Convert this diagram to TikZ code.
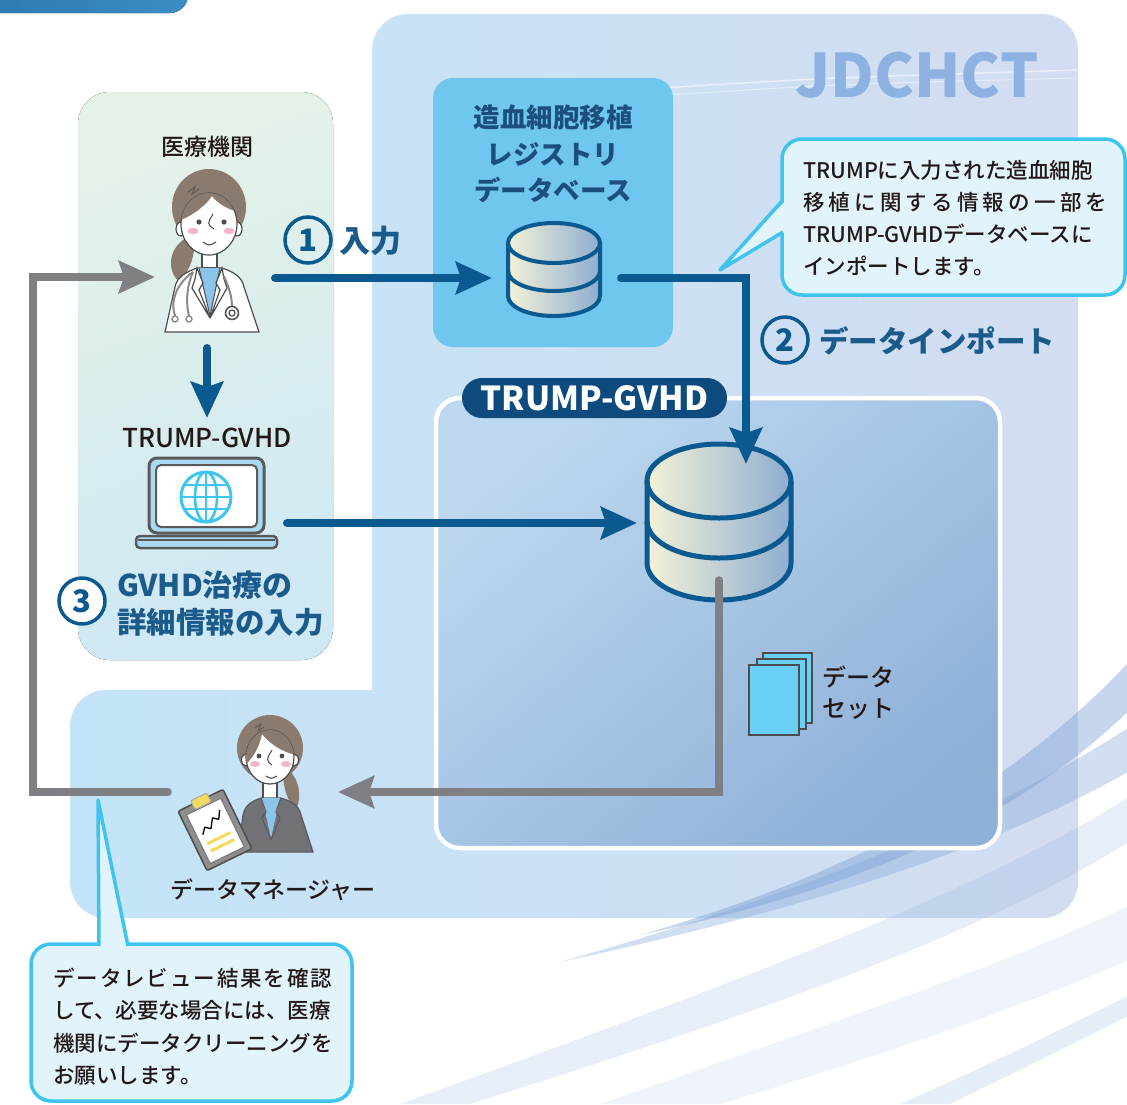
\documentclass[tikz,border=0pt]{standalone}
\usepackage{fontspec}
\setmainfont{Noto Sans CJK JP}
\newfontfamily\jpmed{Noto Sans CJK JP Medium}
\usetikzlibrary{arrows.meta}

\definecolor{deepblue}{HTML}{0A5A90}
\definecolor{navy}{HTML}{0D4B7E}
\definecolor{txtblue}{HTML}{1A5B8C}
\definecolor{regtext}{HTML}{1C4F7E}
\definecolor{arrgray}{HTML}{7F7F84}
\definecolor{cyanline}{HTML}{3EC4EE}
\definecolor{calloutbg}{HTML}{E1F3FB}
\definecolor{regbox}{HTML}{6FC6EE}
\definecolor{ink}{HTML}{231815}
\definecolor{hair}{HTML}{8B7B6F}
\definecolor{hairline}{HTML}{665A52}
\definecolor{outl}{HTML}{4D4D4D}
\definecolor{cheek}{HTML}{F5B5C6}
\definecolor{shirt}{HTML}{8CC5EA}
\definecolor{suit}{HTML}{727276}
\definecolor{suitline}{HTML}{5A5A5E}
\definecolor{steth}{HTML}{8A8A8A}
\definecolor{sheet}{HTML}{6BCFF6}
\definecolor{jdtext}{HTML}{8DB1E0}
\definecolor{dbL}{HTML}{F3F2D8}
\definecolor{dbR}{HTML}{8EADD0}
\definecolor{swoosh}{HTML}{7FA3D6}
\definecolor{clipyel}{HTML}{F2DA5C}
\definecolor{board}{HTML}{8E8E8E}
\definecolor{paperline}{HTML}{777777}
\definecolor{clipline}{HTML}{A8A8A8}
\definecolor{lapfill}{HTML}{A9DAF2}
\definecolor{lapline}{HTML}{5A5A5A}
\definecolor{stripL}{HTML}{2E78B2}
\definecolor{stripR}{HTML}{3C8CC4}
\definecolor{areaL}{HTML}{C3E4F8}
\definecolor{areaR}{HTML}{D3DDF1}
\definecolor{instT}{HTML}{E5F2E7}
\definecolor{instB}{HTML}{CEE8F4}
\definecolor{gvhdT}{HTML}{BCD7EF}
\definecolor{gvhdB}{HTML}{8FB1D8}

% database drum: cx, top centre, band centre, bottom centre, rx, ry, line width
\newcommand{\drum}[7]{%
  \shade[left color=dbL, right color=dbR]
    (#1-#5,#2) -- (#1-#5,#4) arc[start angle=180,end angle=0,x radius=#5,y radius=#6]
    -- (#1+#5,#2) arc[start angle=0,end angle=-180,x radius=#5,y radius=#6] -- cycle;
  \draw[deepblue, line width=#7] (#1,#2) ellipse[x radius=#5,y radius=#6];
  \draw[deepblue, line width=#7, line join=round]
    (#1-#5,#2) -- (#1-#5,#4) arc[start angle=180,end angle=0,x radius=#5,y radius=#6] -- (#1+#5,#2);
  \draw[deepblue, line width=#7] (#1-#5,#3) arc[start angle=180,end angle=0,x radius=#5,y radius=#6];
}

\begin{document}
\begin{tikzpicture}[x=1pt,y=-1pt,
  flow/.style={line width=8pt, deepblue, line cap=round,
    -{Stealth[length=36pt,width=32pt,inset=5pt]}},
  back/.style={line width=7.5pt, arrgray, line cap=round,
    -{Stealth[length=36pt,width=32pt,inset=5pt]}},
  numcirc/.style={circle, draw=deepblue, line width=3.5pt, minimum size=46pt,
    inner sep=0pt, text=deepblue, font=\bfseries\fontsize{31}{31}\selectfont},
  bluelab/.style={text=txtblue, inner sep=0pt, font=\bfseries\fontsize{31}{34}\selectfont},
  lab/.style={text=ink, inner sep=0pt, font=\jpmed\fontsize{23}{27}\selectfont},
  note/.style={text=ink, inner sep=0pt, anchor=west, font=\jpmed\fontsize{21.5}{25}\selectfont},
  bubble/.style={fill=calloutbg, draw=cyanline, line width=3.5pt, rounded corners=20pt},
  fig/.style={draw=outl, line width=1.2pt},
]
\useasboundingbox (0,0) rectangle (1127,1104);

% ---------- heading strip in the corner ----------
\fill[left color=stripL, right color=stripR, rounded corners=18pt] (-30,-60) rectangle (188,13);

% ---------- JDCHCT area ----------
\path[left color=areaL, right color=areaR, rounded corners=36pt]
  (372,14) rectangle (1078,918) (70,690) rectangle (1078,918);
\draw[white, opacity=.55, line width=1.5pt] (630,90) .. controls (820,78) .. (1078,70);
\draw[white, opacity=.45, line width=1pt] (650,96) .. controls (840,84) .. (1078,78);
\node[text=jdtext, inner sep=0pt, font=\bfseries\fontsize{60}{60}\selectfont] (jd) at (917,75) {JDCHCT};

% sweeping streaks
\fill[swoosh, opacity=.45] (640,935) .. controls (900,860) and (1040,760) .. (1140,650)
  -- (1140,700) .. controls (1040,800) and (900,880) .. (640,935) -- cycle;
\fill[swoosh, opacity=.35] (560,962) .. controls (850,880) and (1020,800) .. (1140,720)
  -- (1140,765) .. controls (1020,835) and (850,900) .. (560,962) -- cycle;
\fill[swoosh, opacity=.18] (400,1104) .. controls (800,960) and (1000,880) .. (1140,790)
  -- (1140,835) .. controls (1000,925) and (800,1000) .. (470,1104) -- cycle;
\fill[swoosh, opacity=.12] (600,1104) .. controls (900,1000) and (1040,950) .. (1140,900)
  -- (1140,955) .. controls (1040,1000) and (900,1050) .. (720,1104) -- cycle;
\fill[swoosh, opacity=.2] (900,1104) .. controls (1000,1060) and (1080,1020) .. (1140,990)
  -- (1140,1010) .. controls (1080,1040) and (1000,1080) .. (950,1104) -- cycle;

% ---------- medical institution panel ----------
\fill[top color=instT, bottom color=instB, shading angle=20, rounded corners=32pt]
  (78,92) rectangle (333,660);

% ---------- registry box ----------
\node[fill=regbox, rounded corners=20pt, minimum width=240pt, minimum height=269pt] (reg) at (553,212.5) {};
\node[text=regtext, inner sep=0pt, align=center, font=\bfseries\fontsize{26.5}{36.5}\selectfont]
  (regtxt) at (553,154) {造血細胞移植\\レジストリ\\データベース};
\drum{554}{243}{271}{296}{46}{20}{4pt}
\coordinate (regin) at (492,278);
\coordinate (regout) at (621,278);

% ---------- TRUMP-GVHD database panel ----------
\path[draw=white, line width=4.5pt, rounded corners=24pt,
      top color=gvhdT, bottom color=gvhdB, shading angle=40]
  (436,398) rectangle (1000,848);
\node[fill=navy, rounded corners=20pt, minimum width=265pt, minimum height=40pt,
      text=white, inner sep=0pt, font=\bfseries\fontsize{33}{33}\selectfont] (pill) at (594.5,398) {TRUMP-GVHD};
\drum{719}{481}{521}{563}{72}{37}{5pt}
\coordinate (bigtop) at (746,464);
\coordinate (bigin) at (637,523);
\coordinate (bigbot) at (719,580);

% dataset icon
\filldraw[fill=sheet, draw=outl, line width=2.5pt] (763,653) rectangle (812,723);
\filldraw[fill=sheet, draw=outl, line width=2.5pt] (757,659) rectangle (806,729);
\filldraw[fill=sheet, draw=outl, line width=2.5pt] (749,665) rectangle (799,735);
\node[lab, anchor=west, font=\jpmed\fontsize{24}{28}\selectfont] (ds1) at (822,677) {データ};
\node[lab, anchor=west, font=\jpmed\fontsize{24}{28}\selectfont] (ds2) at (822,709) {セット};

% ---------- doctor ----------
\node[lab] (inst) at (207,147) {医療機関};
\fill[hair] (186,238) .. controls (166,250) and (168,274) .. (180,282)
  .. controls (190,270) and (196,254) .. (194,238) -- cycle;
\fill[hair] (209,207) ellipse[x radius=37,y radius=38];
\filldraw[fill=white, fig] (181,229) ellipse[x radius=5,y radius=7];
\filldraw[fill=white, fig] (237,229) ellipse[x radius=5,y radius=7];
\filldraw[fill=white, fig] (202,250) rectangle (217,268);
\filldraw[fill=white, fig] (209,224) ellipse[x radius=28,y radius=31];
\begin{scope}
  \clip (209,224) ellipse[x radius=28,y radius=31];
  \fill[hair] (176,226) -- (181,220) .. controls (195,214) and (206,205) .. (212,196)
    .. controls (220,206) and (230,210) .. (242,213) -- (242,180) -- (176,180) -- cycle;
\end{scope}
\draw[hairline, line width=1pt] (188,192) -- (195,187) -- (192,194) -- (199,189);
\fill[outl] (199,222) circle[radius=2.6];
\fill[outl] (224,222) circle[radius=2.6];
\fill[cheek] (193,231) ellipse[x radius=5.5,y radius=3.2];
\fill[cheek] (229,231) ellipse[x radius=5.5,y radius=3.2];
\draw[outl, line width=1pt] (213,214) .. controls (207,224) .. (214,229);
\draw[outl, line width=1.1pt] (203,242) .. controls (209,246) .. (216,242);
\filldraw[fill=white, fig] (165,332) -- (175,287) .. controls (177,277) and (186,272) .. (197,268)
  -- (222,268) .. controls (234,272) and (242,277) .. (244,287) -- (259,332) -- cycle;
\fill[shirt] (199,268) -- (220,268) -- (210,316) -- cycle;
\draw[outl, line width=1pt] (199,268) -- (210,316) -- (220,268);
\filldraw[fill=white, fig] (197,268) -- (203,283) -- (199,290) -- (210,318) -- (192,288) -- (195,279) -- cycle;
\filldraw[fill=white, fig] (222,268) -- (216,283) -- (220,290) -- (210,318) -- (227,288) -- (224,279) -- cycle;
\draw[steth, line width=2pt] (193,272) .. controls (176,284) and (170,302) .. (175,316);
\draw[steth, line width=2pt] (193,272) .. controls (186,288) and (186,304) .. (189,316);
\filldraw[fill=white, draw=steth, line width=1.4pt] (175,319) circle[radius=3];
\filldraw[fill=white, draw=steth, line width=1.4pt] (189,319) circle[radius=3];
\draw[steth, line width=2pt] (224,276) .. controls (230,290) and (232,298) .. (232,307);
\filldraw[fill=white, draw=outl, line width=1.5pt] (232,313) circle[radius=6.5];
\draw[outl, line width=1.2pt] (232,313) circle[radius=3];
\coordinate (docout) at (275,278);
\coordinate (docin) at (155,277);
\coordinate (docdown) at (207,348);

% ---------- laptop ----------
\node[lab, font=\jpmed\fontsize{26}{30}\selectfont] (laplab) at (207,438) {TRUMP-GVHD};
\filldraw[fill=lapfill, draw=lapline, line width=3pt, rounded corners=8pt] (149,458) rectangle (264,533);
\filldraw[fill=white, draw=lapline, line width=2pt, rounded corners=5pt] (156,465) rectangle (257,527);
\filldraw[fill=lapfill, draw=lapline, line width=2.5pt, rounded corners=4pt] (136,536) rectangle (277,548);
\draw[lapline, line width=1.5pt] (138,540) -- (275,540);
\begin{scope}
  \clip (206,497) circle[radius=25];
  \draw[cyanline, line width=2.6pt] (206,497) ellipse[x radius=11,y radius=25];
  \draw[cyanline, line width=2.6pt] (206,470) -- (206,524) (178,497) -- (234,497)
    (180,485) -- (232,485) (180,509) -- (232,509);
\end{scope}
\draw[cyanline, line width=3pt] (206,497) circle[radius=25];
\coordinate (lapin) at (207,418);
\coordinate (lapout) at (287,523);

% step labels
\node[numcirc] (n1) at (308,240) {1};
\node[bluelab, anchor=west] (l1) at (339,241) {入力};
\node[numcirc] (n2) at (785,340) {2};
\node[bluelab, anchor=west, font=\bfseries\fontsize{29.5}{34}\selectfont] (l2) at (819,341) {データインポート};
\node[numcirc, fill=white] (n3) at (82,601) {3};
\node[bluelab, anchor=west, font=\bfseries\fontsize{30}{34}\selectfont] (l3a) at (117,585) {GVHD治療の};
\node[bluelab, anchor=west, font=\bfseries\fontsize{29.5}{34}\selectfont] (l3b) at (117,622) {詳細情報の入力};

% ---------- data manager ----------
\fill[hair] (287,768) .. controls (300,780) and (302,796) .. (296,810)
  .. controls (287,800) and (283,788) .. (283,772) -- cycle;
\fill[hair] (270,748) ellipse[x radius=33,y radius=33];
\filldraw[fill=white, fig] (246,760) ellipse[x radius=4.5,y radius=6];
\filldraw[fill=white, fig] (294,760) ellipse[x radius=4.5,y radius=6];
\filldraw[fill=white, fig] (263,780) rectangle (277,800);
\filldraw[fill=white, fig] (270,757) ellipse[x radius=24,y radius=27];
\begin{scope}
  \clip (270,757) ellipse[x radius=24,y radius=27];
  \fill[hair] (244,770) -- (246,764) .. controls (255,756) and (260,744) .. (262,734)
    .. controls (270,744) and (282,752) .. (296,755) -- (296,720) -- (244,720) -- cycle;
\end{scope}
\draw[hairline, line width=1pt] (255,728) -- (261,724) -- (258,731) -- (264,727);
\fill[outl] (259,756) circle[radius=2.4];
\fill[outl] (282,756) circle[radius=2.4];
\fill[cheek] (255,764) ellipse[x radius=5,y radius=3];
\fill[cheek] (286,764) ellipse[x radius=5,y radius=3];
\draw[outl, line width=1pt] (272,750) .. controls (266,760) .. (272,765);
\draw[outl, line width=1.1pt] (266,776) .. controls (271,779) .. (277,776);
\filldraw[fill=suit, draw=suitline, line width=1.2pt] (238,852) -- (243,815)
  .. controls (245,805) and (252,801) .. (261,798) -- (281,798)
  .. controls (291,801) and (299,805) .. (301,815) -- (313,852) -- cycle;
\fill[shirt] (262,798) -- (280,798) -- (271,838) -- cycle;
\draw[suitline, line width=1.1pt] (261,798) -- (266,812) -- (262,818) -- (271,840)
  (281,798) -- (276,812) -- (280,818) -- (271,840);
\begin{scope}[shift={(215,830)}, rotate=26]
  \filldraw[fill=board, draw=outl, line width=1.5pt, rounded corners=2pt] (-25,-33) rectangle (25,33);
  \filldraw[fill=white, draw=paperline, line width=1pt] (-19,-26) rectangle (19,28);
  \filldraw[fill=clipyel, draw=clipline, line width=1pt, rounded corners=1.5pt] (-9,-37) rectangle (9,-27);
  \draw[black, line width=1.3pt, line join=round] (-13,-1) -- (-8,-7) -- (-3,-3) -- (3,-12) -- (8,-8) -- (13,-16);
  \draw[clipyel, line width=3pt] (-13,9) -- (13,9) (-13,17) -- (13,17);
\end{scope}
\node[lab] (dmlab) at (273,890) {データマネージャー};
\coordinate (dmin) at (338,792);
\coordinate (dmout) at (168,792);
\coordinate (loopTL) at (33,277);

% ---------- connectors ----------
\draw[flow] (docout) -- (regin);
\draw[flow] (regout) -| (bigtop);
\draw[flow] (docdown) -- (lapin);
\draw[flow] (lapout) -- (bigin);
\draw[back] (bigbot) |- (dmin);
\draw[back] (dmout) -| (loopTL) -- (docin);

% ---------- callouts ----------
\coordinate (tipA) at (720,270);
\draw[bubble] (782,139) rectangle (1125,295);
\fill[calloutbg] (tipA) -- (786,200) -- (786,232) -- cycle;
\draw[cyanline, line width=3.5pt, line join=round] (783,200) -- (tipA) -- (783,232);
\begin{scope}[every node/.append style={font=\jpmed\fontsize{22.3}{26}\selectfont}]
\node[note] (a1) at (803,170) {TRUMPに入力された造血細胞};
\node[note] (a2) at (803,202) {\makebox[304pt][s]{移\hfill 植\hfill に\hfill 関\hfill す\hfill る\hfill 情\hfill 報\hfill の\hfill 一\hfill 部\hfill を}};
\node[note] (a3) at (803,234) {TRUMP-GVHDデータベースに};
\node[note] (a4) at (803,266) {インポートします。};
\end{scope}

\coordinate (tipB) at (98,800);
\draw[bubble] (31,944) rectangle (352,1101);
\fill[calloutbg] (tipB) -- (99,948) -- (128,948) -- cycle;
\draw[cyanline, line width=3.5pt, line join=round] (99,946) -- (tipB) -- (128,946);
\node[note] (b1) at (53,978) {\makebox[279pt][s]{デ\hfill ー\hfill タ\hfill レ\hfill ビ\hfill ュ\hfill ー\hfill 結\hfill 果\hfill を\hfill 確\hfill 認}};
\node[note] (b2) at (53,1010) {して、必要な場合には、医療};
\node[note] (b3) at (53,1043) {機関にデータクリーニングを};
\node[note] (b4) at (53,1076) {お願いします。};
\end{tikzpicture}
\end{document}
